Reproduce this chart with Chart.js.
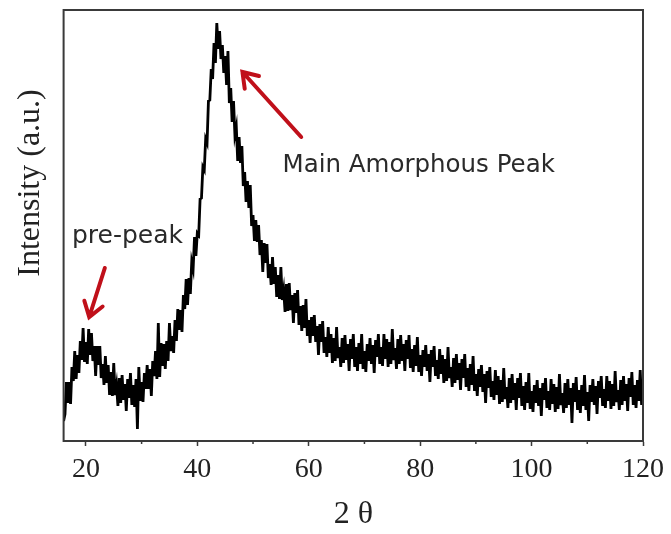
<!DOCTYPE html>
<html>
<head>
<meta charset="utf-8">
<script src="https://cdn.jsdelivr.net/npm/chart.js@4"></script>
<style>
  body { margin: 0; background: #fff; }
  canvas { display: block; }
</style>
</head>
<body>
<canvas id="xrdChart" width="671" height="534"></canvas>
<script>
// scan: 16° .. 120°, one reading every 0.25°
const startAngle = 16;
const stepAngle = 0.25;

// intensity (arbitrary units), 4 readings per degree
const intensity = [
    20, 27, 59, 38,   59, 37, 74, 60,   90, 62, 86, 68,   100, 81, 113, 79,  99, 77, 112, 86,     // 16-20
    108, 80, 95, 65,  95, 76, 95, 63,   77, 56, 85, 58,   76, 46, 69, 45,   78, 46, 56, 35,       // 21-25
    63, 38, 66, 41,   57, 30, 62, 43,   68, 36, 56, 34,   62, 12, 74, 40,   59, 39, 68, 52,       // 26-30
    76, 52, 72, 45,   80, 65, 90, 62,   118, 64, 98, 75,  97, 72, 100, 80,  118, 90, 105, 88,     // 31-35
    121, 100, 132, 111, 131, 109, 146, 132, 162, 136, 163, 147, 179, 172, 204, 185, 208, 206, 242, 243, // 36-40
    274, 271, 302, 298, 340, 341, 372, 362, 398, 378, 418, 392, 410, 382, 396, 368, 385, 356, 390, 338, // 41-45
    353, 319, 340, 306, 314, 280, 304, 278, 295, 255, 269, 239, 260, 233, 256, 215, 226, 200, 221, 199, // 46-50
    216, 186, 201, 169, 198, 178, 197, 163, 177, 156, 184, 157, 174, 144, 166, 142, 174, 141, 151, 129, // 51-55
    157, 130, 158, 131, 146, 118, 148, 128, 151, 116, 135, 110, 136, 113, 142, 105, 121, 98, 124, 105,  // 56-60
    126, 99, 115, 86, 117, 99, 120, 88, 104, 84, 114, 88,  107, 78, 103, 80,  114, 83, 94, 74,   // 61-65
    103, 78, 106, 81, 97, 70, 102, 82,  107, 74, 94, 70,  98, 77, 107, 72,  90, 69, 97, 80,       // 66-70
    103, 77, 96, 68,  101, 84, 107, 77, 94, 75, 107, 82,  102, 74, 99, 77,  112, 81, 93, 72,      // 71-75
    102, 77, 106, 80, 97, 70, 101, 82,  106, 73, 92, 69,  96, 75, 104, 69,  86, 65, 91, 74,       // 76-80
    96, 70, 87, 59,   91, 74, 95, 65,   81, 62, 92, 67,   86, 58, 82, 60,   94, 63, 74, 54,       // 81-85
    83, 58, 87, 61,   78, 51, 82, 63,   87, 54, 73, 50,   77, 56, 85, 50,   67, 45, 72, 54,       // 86-90
    76, 49, 67, 38,   70, 53, 74, 44,   60, 41, 71, 46,   65, 37, 61, 39,   73, 42, 54, 33,       // 91-95
    63, 38, 67, 41,   58, 31, 63, 43,   68, 35, 55, 31,   59, 38, 68, 32,   50, 29, 56, 38,       // 96-100
    61, 35, 53, 25,   58, 41, 63, 33,   50, 31, 62, 37,   57, 29, 54, 32,   67, 36, 48, 28,       // 101-105
    58, 33, 62, 36,   53, 18, 58, 39,   64, 31, 51, 28,   56, 35, 66, 31,   49, 20, 56, 39,       // 106-110
    62, 36, 55, 27,   60, 43, 65, 35,   52, 33, 65, 40,   60, 32, 57, 35,   70, 39, 51, 31,       // 111-115
    61, 36, 65, 40,   57, 30, 63, 44,   69, 36, 56, 33,   61, 40, 71, 36,   54                    // 116-120
];

const xTicks = [20, 40, 60, 80, 100, 120];
const xMinorTicks = [30, 50, 70, 90, 110];
const notes = ['pre-peak', 'Main Amorphous Peak'];

const points = intensity.map((v, i) => ({ x: startAngle + i * stepAngle, y: v }));

// frame, minor ticks, y title, arrows and notes
const decor = {
    id: 'decor',
    afterDraw(chart) {
        const { ctx, chartArea: a, scales: { x, y } } = chart;
        ctx.save();
        ctx.strokeStyle = '#3a3a3a';
        ctx.lineWidth = 2;
        ctx.strokeRect(a.left, a.top, a.right - a.left, a.bottom - a.top);

        ctx.lineWidth = 1.5;
        xMinorTicks.forEach(v => {
            const px = x.getPixelForValue(v);
            ctx.beginPath();
            ctx.moveTo(px, a.bottom);
            ctx.lineTo(px, a.bottom + 3);
            ctx.stroke();
        });

        ctx.fillStyle = '#222';
        ctx.font = '32px "Liberation Serif"';
        ctx.textAlign = 'center';
        ctx.textBaseline = 'middle';
        ctx.translate(31, 183);
        ctx.rotate(-Math.PI / 2);
        ctx.fillText('Intensity (a.u.)', 0, 0);
        ctx.restore();

        const arrow = (x0, y0, x1, y1) => {
            const ax = x.getPixelForValue(x0), ay = y.getPixelForValue(y0);
            const bx = x.getPixelForValue(x1), by = y.getPixelForValue(y1);
            const ang = Math.atan2(by - ay, bx - ax);
            ctx.beginPath();
            ctx.moveTo(ax, ay);
            ctx.lineTo(bx, by);
            ctx.moveTo(bx - 17 * Math.cos(ang - 0.6), by - 17 * Math.sin(ang - 0.6));
            ctx.lineTo(bx, by);
            ctx.lineTo(bx - 17 * Math.cos(ang + 0.6), by - 17 * Math.sin(ang + 0.6));
            ctx.stroke();
        };
        ctx.save();
        ctx.strokeStyle = '#c0101a';
        ctx.lineWidth = 4;
        ctx.lineCap = 'round';
        arrow(23.4, 173, 20.6, 124);
        arrow(58.65, 304, 48.1, 369);

        ctx.fillStyle = '#2a2a2a';
        ctx.textBaseline = 'alphabetic';
        ctx.textAlign = 'left';
        ctx.font = '25px "DejaVu Sans"';
        ctx.fillText(notes[0], x.getPixelForValue(17.5), y.getPixelForValue(198));
        ctx.font = '24.5px "DejaVu Sans"';
        ctx.fillText(notes[1], x.getPixelForValue(55.3), y.getPixelForValue(269));
        ctx.restore();
    }
};

new Chart(document.getElementById('xrdChart'), {
    type: 'line',
    data: {
        datasets: [{
            data: points,
            borderColor: '#000',
            borderWidth: 2.8,
            pointRadius: 0,
            tension: 0
        }]
    },
    options: {
        responsive: false,
        animation: false,
        devicePixelRatio: 1,
        layout: { padding: { left: 63.6, right: 26.2, top: 10, bottom: 0 } },
        plugins: { legend: { display: false }, tooltip: { enabled: false } },
        scales: {
            x: {
                type: 'linear',
                min: 16,
                max: 120,
                afterBuildTicks: axis => { axis.ticks = xTicks.map(v => ({ value: v })); },
                grid: { drawOnChartArea: false, tickLength: 5, tickWidth: 1.5, tickColor: '#3a3a3a' },
                border: { color: '#3a3a3a', width: 2 },
                ticks: {
                    color: '#222',
                    padding: 7,
                    maxRotation: 0,
                    font: { family: 'Liberation Serif', size: 28 }
                },
                title: {
                    display: true,
                    text: '2 θ',
                    color: '#222',
                    padding: { top: 2, bottom: 0 },
                    font: { family: 'Liberation Serif', size: 32 }
                }
            },
            y: {
                display: false,
                min: 0,
                max: 431
            }
        }
    },
    plugins: [decor]
});
</script>
</body>
</html>
